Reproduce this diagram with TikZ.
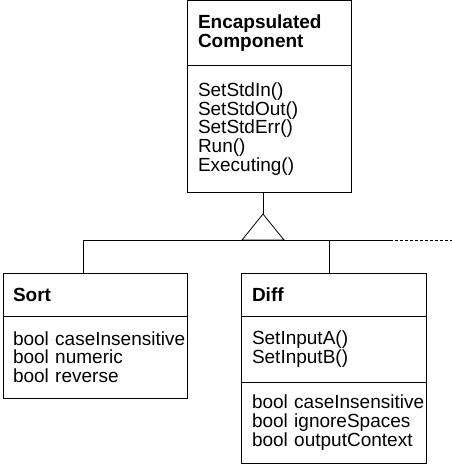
\documentclass[tikz,border=0pt]{standalone}
\usepackage{fontspec}
\setmainfont{Liberation Sans}
\usetikzlibrary{positioning}

\begin{document}
\begin{tikzpicture}[x=1pt,y=-1pt,line width=0.8pt,
font=\fontsize{19}{18.6}\selectfont,
head/.style={rectangle,draw,font=\fontsize{19}{18.6}\selectfont\bfseries,align=left,outer sep=0pt,inner xsep=11pt,inner ysep=3pt,anchor=north west},
part/.style={rectangle,draw,align=left,outer sep=0pt,inner xsep=11pt,inner ysep=3pt},
line/.style={draw},
every node/.append style={execute at begin node={\hyphenpenalty=10000\hbadness=10000\hfuzz=20pt}}]

\useasboundingbox (0,0) rectangle (452,466);

\node [head, text width=142, minimum height=65] (ech) at (187,0.5) {Encapsulated\\Component};
\node [part, text width=142, minimum height=127, below=0pt of ech] (ecm) {SetStdIn()\\SetStdOut()\\SetStdErr()\\Run()\\Executing()};

\node [head, text width=164, minimum height=43, inner xsep=10pt] (sorth) at (3,273) {Sort};
\node [part, text width=164, minimum height=82, inner xsep=10pt, below=0pt of sorth] (sorta) {bool~caseInsensitive\\bool numeric\\bool reverse};

\node [head, text width=163, minimum height=43] (diffh) at (241,273) {Diff};
\node [part, text width=163, minimum height=66, below=0pt of diffh] (diffm) {SetInputA()\\SetInputB()};
\node [part, text width=163, minimum height=81, below=0pt of diffm] (diffa) {bool~caseInsensitive\\bool ignoreSpaces\\bool outputContext};

% inheritance
\coordinate (apex) at (263,214);
\coordinate (bus) at (83,240);
\coordinate (busd) at (329,240);
\coordinate (busend) at (390,240);
\coordinate (more) at (452,240);

\path [line] (apex |- ecm.south) -- (apex);
\path [line] (apex) -- ++(-21,26) -- ++(42,0) -- cycle;
\path [line] (bus) -- (busend);
\path [line,dash pattern=on 3pt off 2pt] (busend) -- (more);
\path [line] (bus) -- (bus |- sorth.north);
\path [line] (busd) -- (busd |- diffh.north);
\end{tikzpicture}
\end{document}
